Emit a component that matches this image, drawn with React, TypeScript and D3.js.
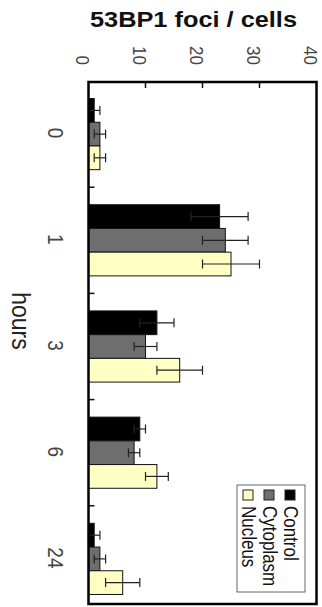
import React, { useEffect, useRef } from 'react'
import * as d3 from 'd3'

// categories + series
const hours = ['0', '1', '3', '6', '24']
const seriesNames = ['Control', 'Cytoplasm', 'Nucleus']
const control = [1, 23, 12, 9, 1]
const controlErr = [1, 5, 3, 1, 1]
const cytoplasm = [2, 24, 10, 8, 2]
const cytoplasmErr = [1, 4, 2, 1, 1]
const nucleus = [2, 25, 16, 12, 6]
const nucleusErr = [1, 5, 4, 2, 3]
const valueTicks = [0, 10, 20, 30, 40]

const colors = ['#000000', '#6e6e6e', '#ffffc4']
const FONT = '"Liberation Sans", Arial, sans-serif'

export default function App() {
  const ref = useRef<SVGSVGElement>(null)

  useEffect(() => {
    const svg = d3.select(ref.current)
    svg.selectAll('*').remove()

    const width = 322, height = 607
    const left = 88.5, right = 316.5, top = 82, bottom = 604

    // value axis runs left -> right, categories top -> bottom (rotated chart)
    const x = d3.scaleLinear().domain([0, 40]).range([left, right])
    const y = d3.scaleBand<string>()
      .domain(hours)
      .range([81, 612])
      .paddingInner(0.33)
      .paddingOuter(0.165)
    const ySub = d3.scaleBand<string>().domain(seriesNames).range([0, y.bandwidth()])

    const rows = hours.map((h, i) => ({
      hour: h,
      vals: [
        { s: 'Control', v: control[i], e: controlErr[i] },
        { s: 'Cytoplasm', v: cytoplasm[i], e: cytoplasmErr[i] },
        { s: 'Nucleus', v: nucleus[i], e: nucleusErr[i] },
      ],
    }))
    const color = d3.scaleOrdinal<string, string>().domain(seriesNames).range(colors)

    svg.append('rect').attr('width', width).attr('height', height).attr('fill', '#fff')

    // title
    svg.append('text')
      .attr('x', 193.5).attr('y', 27)
      .attr('text-anchor', 'middle')
      .attr('font-family', FONT).attr('font-weight', 'bold').attr('font-size', 22)
      .attr('textLength', 207).attr('lengthAdjust', 'spacingAndGlyphs')
      .attr('fill', '#111')
      .text('53BP1 foci / cells')

    // value tick labels (rotated)
    svg.append('g').selectAll('text')
      .data(valueTicks)
      .enter().append('text')
      .attr('transform', d => `translate(${x(d) - 13},65) rotate(90) scale(1,1.1)`)
      .attr('text-anchor', 'end')
      .attr('font-family', FONT).attr('font-size', 17)
      .attr('fill', '#444')
      .text(d => d)

    // bars
    const groups = svg.append('g').selectAll('g')
      .data(rows)
      .enter().append('g')
      .attr('transform', d => `translate(0,${y(d.hour)})`)

    groups.selectAll('rect')
      .data(d => d.vals)
      .enter().append('rect')
      .attr('x', x(0))
      .attr('y', d => ySub(d.s)!)
      .attr('width', d => x(d.v) - x(0))
      .attr('height', ySub.bandwidth())
      .attr('fill', d => color(d.s))
      .attr('stroke', '#111').attr('stroke-width', 1)

    // error bars
    const err = groups.selectAll('g.err')
      .data(d => d.vals)
      .enter().append('g').attr('class', 'err')
      .attr('stroke', '#222').attr('stroke-width', 1.2)
    err.append('line')
      .attr('x1', d => x(d.v - d.e)).attr('x2', d => x(d.v + d.e))
      .attr('y1', d => ySub(d.s)! + ySub.bandwidth() / 2)
      .attr('y2', d => ySub(d.s)! + ySub.bandwidth() / 2)
    err.append('line')
      .attr('x1', d => x(d.v + d.e)).attr('x2', d => x(d.v + d.e))
      .attr('y1', d => ySub(d.s)! + ySub.bandwidth() / 2 - 4.5)
      .attr('y2', d => ySub(d.s)! + ySub.bandwidth() / 2 + 4.5)
    err.append('line')
      .attr('x1', d => x(d.v - d.e)).attr('x2', d => x(d.v - d.e))
      .attr('y1', d => ySub(d.s)! + ySub.bandwidth() / 2 - 4.5)
      .attr('y2', d => ySub(d.s)! + ySub.bandwidth() / 2 + 4.5)

    // inside ticks
    svg.append('g').selectAll('line')
      .data(valueTicks.slice(1, -1))
      .enter().append('line')
      .attr('x1', d => x(d)).attr('x2', d => x(d))
      .attr('y1', top).attr('y2', top + 6)
      .attr('stroke', '#111').attr('stroke-width', 1.5)
    svg.append('g').selectAll('line')
      .data(hours.slice(1))
      .enter().append('line')
      .attr('x1', left).attr('x2', left + 6)
      .attr('y1', d => y(d)! - y.step() * y.paddingInner() / 2)
      .attr('y2', d => y(d)! - y.step() * y.paddingInner() / 2)
      .attr('stroke', '#111').attr('stroke-width', 1.5)

    // frame
    svg.append('rect')
      .attr('x', left).attr('y', top)
      .attr('width', right - left).attr('height', bottom - top)
      .attr('fill', 'none').attr('stroke', '#000').attr('stroke-width', 2.5)

    // category labels
    svg.append('g').selectAll('text')
      .data(hours)
      .enter().append('text')
      .attr('transform', d => `translate(48,${y(d)! + y.bandwidth() / 2 - 1}) rotate(90) scale(1,1.15)`)
      .attr('text-anchor', 'middle')
      .attr('font-family', FONT).attr('font-size', 19)
      .attr('fill', '#444')
      .text(d => d)

    svg.append('text')
      .attr('transform', 'translate(12,321) rotate(90) scale(1,1.15)')
      .attr('text-anchor', 'middle')
      .attr('font-family', FONT).attr('font-size', 23)
      .attr('fill', '#222')
      .text('hours')

    // legend
    const lg = svg.append('g')
    lg.append('rect')
      .attr('x', 237).attr('y', 485).attr('width', 68).attr('height', 107)
      .attr('fill', '#fff').attr('stroke', '#666').attr('stroke-width', 1)
    const baseX = d3.scalePoint<string>().domain(seriesNames).range([284, 242])
    const item = lg.selectAll('g.item')
      .data(seriesNames)
      .enter().append('g').attr('class', 'item')
    item.append('rect')
      .attr('x', d => baseX(d)! + 1).attr('y', 490)
      .attr('width', 10).attr('height', 10)
      .attr('fill', d => color(d)).attr('stroke', '#222').attr('stroke-width', 1)
    item.append('text')
      .attr('transform', d => `translate(${baseX(d)},506) rotate(90) scale(1,1.15)`)
      .attr('font-family', FONT).attr('font-size', 17)
      .attr('fill', '#111')
      .text(d => d)
  }, [])

  return (
    <svg ref={ref} width={322} height={607}
      style={{ position: 'absolute', left: 0, top: 0, display: 'block' }} />
  )
}
